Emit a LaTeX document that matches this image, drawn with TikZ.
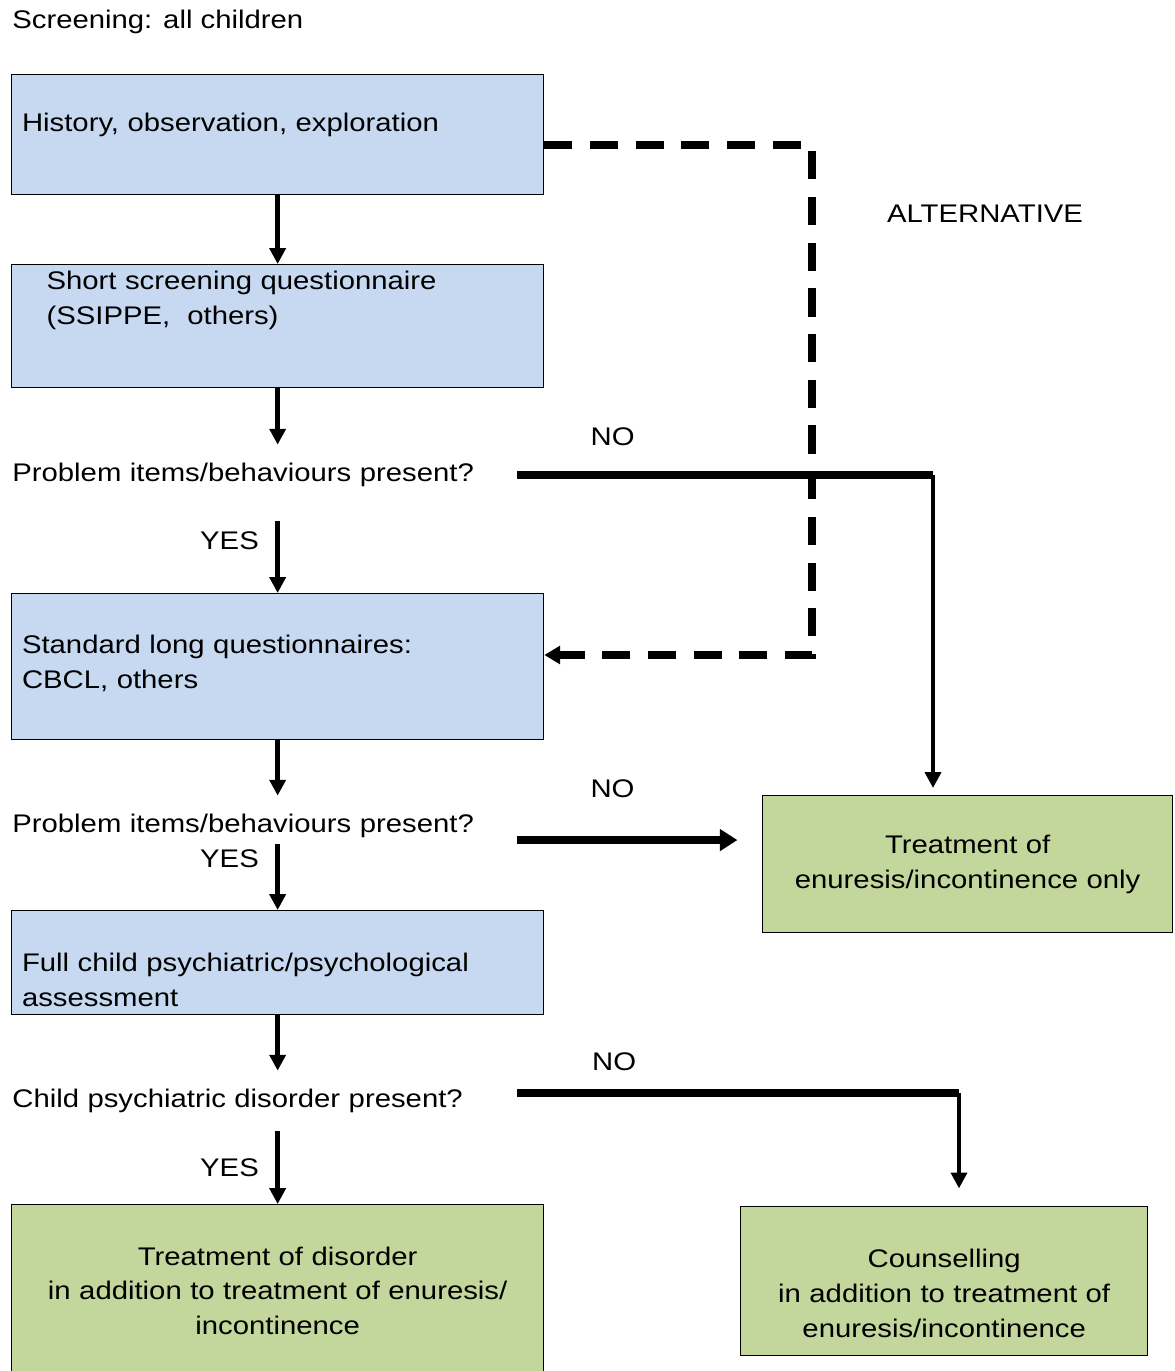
\documentclass[tikz,border=0pt]{standalone}
\usepackage{fontspec}
\setmainfont{Liberation Sans}[FakeStretch=1.15]
\usetikzlibrary{arrows.meta,positioning}
\definecolor{boxblue}{RGB}{198,217,241}
\definecolor{boxgreen}{RGB}{195,214,155}
\tikzset{
  bluebox/.style={draw, line width=0.8pt, fill=boxblue, anchor=north west,
    inner xsep=5pt, text width=291pt, minimum width=10.64cm, align=left},
  greenbox/.style={draw, line width=0.8pt, fill=boxgreen, anchor=north west, align=center},
  question/.style={anchor=west, inner xsep=0pt, text width=287pt, minimum height=1.2cm, align=left},
  lift/.style={execute at end node={\par\vspace{#1}}},
  arr/.style={line width=2.8pt, -{Triangle[length=9pt,width=9pt]}},
  thinarr/.style={line width=2.2pt, -{Triangle[length=9pt,width=9pt]}},
  noline/.style={line width=5pt},
  noarr/.style={line width=5pt, -{Triangle[length=10pt,width=12pt]}},
  altline/.style={line width=4.8pt, dash pattern=on 16pt off 10pt, -{Triangle[length=9pt,width=10pt]}},
  yeslbl/.style={left, xshift=-6pt}
}
\begin{document}
\begin{tikzpicture}[x=0.02cm, y=-0.02cm, font=\fontsize{14.5pt}{19.8pt}\selectfont]
      \useasboundingbox (0,0) rectangle (1174,1371);
      % \draw[help lines] (0,0) grid[step=100] (1174,1371);

      \node[anchor=west, inner xsep=0pt] (title) at (12,22) {Screening: all children};

      % left column
      \node[bluebox, minimum height=2.4cm, lift=11pt] (hist) at (11,74) {History, observation, exploration};
      \node[bluebox, minimum height=2.46cm, inner xsep=19pt, text width=263pt, lift=29pt] (short) at (11,264)
        {Short screening questionnaire\\(SSIPPE,\ \ others)};
      \node[question] (q1) at (12,475) {Problem items/behaviours present?};
      \node[bluebox, minimum height=2.92cm, lift=4pt] (std) at (11,593) {Standard long questionnaires:\\CBCL, others};
      \node[question] (q2) at (12,826) {Problem items/behaviours present?};
      \node[bluebox, minimum height=2.08cm, lift=-20pt] (full) at (11,910)
        {Full child psychiatric/psychological\\assessment};
      \node[question] (q3) at (12,1101) {Child psychiatric disorder present?};
      \node[greenbox, minimum width=10.64cm, minimum height=3.44cm, text width=295pt] (disorder) at (11,1204)
        {Treatment of disorder\\in addition to treatment of enuresis/\\incontinence};

      % right column
      \node (alt) at (985,214) {ALTERNATIVE};
      \node[greenbox, minimum width=8.2cm, minimum height=2.74cm, text width=225pt] (treat) at (762,795)
        {Treatment of\\enuresis/incontinence only};
      \node[greenbox, minimum width=8.14cm, minimum height=2.98cm, text width=224pt, lift=-13.6pt] (couns) at (740,1206)
        {Counselling\\in addition to treatment of\\enuresis/incontinence};

      \coordinate (c1) at (933,475);
      \coordinate (c3) at (959,1093);
      \coordinate (d1) at (812,145);
      \coordinate (d2) at (812,655);

      % main flow
      \draw[arr] (hist) -- (short);
      \draw[arr] (short) -- (short |- q1.north);
      \draw[arr, shorten <=9pt] (short |- q1.south) -- (std) node[pos=0.4, yeslbl] {YES};
      \draw[arr] (std) -- (std |- q2.north);
      \draw[arr, shorten <=-7pt] (std |- q2.south) -- (full) node[pos=0.05, yeslbl] {YES};
      \draw[arr] (full) -- (full |- q3.north);
      \draw[arr] (full |- q3.south) -- (disorder) node[pos=0.5, yeslbl] {YES};

      % NO branches
      \draw[noline] (q1.east) -- (q1.east -| c1) node[pos=0.23, above=11pt] {NO};
      \draw[thinarr, shorten >=4pt] (q1.east -| c1) -- (c1 |- treat.north);
      \draw[noarr, shorten >=14pt] ([yshift=-8pt]q2.east) -- ([yshift=-8pt]q2.east -| treat.west)
        node[pos=0.39, above=18pt] {NO};
      \draw[noline] ([yshift=4.5pt]q3.east) -- ([yshift=4.5pt]q3.east -| c3) node[pos=0.22, above=7pt] {NO};
      \draw[thinarr, shorten >=10pt] ([yshift=4.5pt]q3.east -| c3) -- (c3 |- couns.north);

      % alternative route
      \draw[altline] (hist.east |- d1) -- (d1) -- (d2) -- (std.east |- d2);
\end{tikzpicture}
\end{document}
